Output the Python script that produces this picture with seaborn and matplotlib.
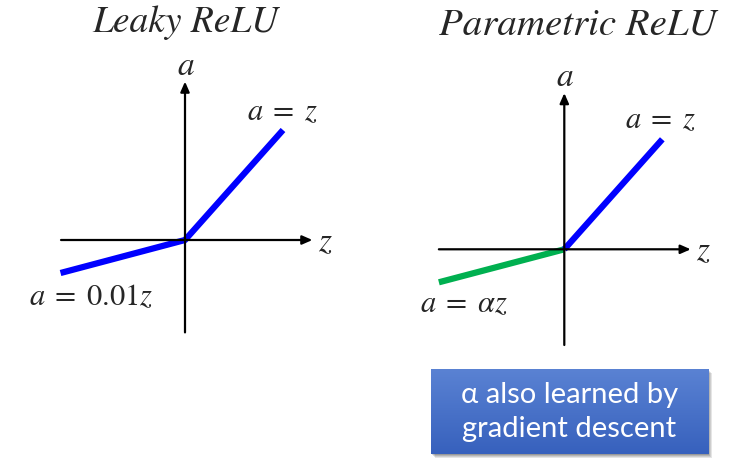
import matplotlib
matplotlib.use("Agg")
import matplotlib.pyplot as plt
import seaborn as sns
import numpy as np
import pandas as pd

# activation curves, in (z, a) units
leaky_z = [-1.27, 0.0, 1.0]
leaky_a = [-0.30, 0.0, 1.0]
prelu_neg_z = [-1.28, 0.0]
prelu_neg_a = [-0.30, 0.0]
prelu_pos_z = [0.0, 1.0]
prelu_pos_a = [0.0, 1.0]

titles = ["Leaky ReLU", "Parametric ReLU"]
pos_labels = ["$a\\;=\\;z$", "$a\\;=\\;z$"]
neg_labels = ["$a\\;=\\;0.01z$", "$a\\;=\\;\\alpha z$"]
note_lines = ["\u03b1 also learned by", "gradient descent"]

BLUE = "#0000ff"
GREEN = "#00b050"

sns.set_theme(style="white")
plt.rcParams["mathtext.fontset"] = "stix"
plt.rcParams["font.family"] = ["STIXGeneral", "DejaVu Sans"]

W, H = 752, 463
fig = plt.figure(figsize=(W / 100, H / 100), dpi=100)
fig.patch.set_facecolor("white")

SX, SY = 98, 110  # px per unit


def panel(ox, oy, xlim=(-1.95, 1.75), ylim=(-1.05, 2.15)):
    left = (ox + xlim[0] * SX) / W
    width = (xlim[1] - xlim[0]) * SX / W
    bottom = (H - (oy - ylim[0] * SY)) / H
    height = (ylim[1] - ylim[0]) * SY / H
    ax = fig.add_axes([left, bottom, width, height])
    ax.set_xlim(*xlim)
    ax.set_ylim(*ylim)
    ax.axis("off")
    return ax


def draw_axes(ax, x0, x1, y0, y1):
    arrow = dict(arrowstyle="-|>,head_length=0.5,head_width=0.22", color="black",
                 lw=1.6, shrinkA=0, shrinkB=0)
    ax.annotate("", xy=(x1, 0), xytext=(x0, 0), arrowprops=arrow)
    ax.annotate("", xy=(0, y1), xytext=(0, y0), arrowprops=arrow)
    ax.text(x1 + 0.13, -0.03, "$z$", fontsize=24, ha="center", va="center")
    ax.text(0.01, y1 + 0.13, "$a$", fontsize=24, ha="center", va="center")


# Leaky ReLU
ax1 = panel(185, 240)
draw_axes(ax1, -1.265, 1.30, -0.84, 1.44)
sns.lineplot(x=leaky_z, y=leaky_a, color=BLUE, lw=4.5, sort=False, ax=ax1,
             solid_capstyle="butt", solid_joinstyle="round")
ax1.text(0.0, 1.98, titles[0], fontsize=27, style="italic", ha="center", va="center")
ax1.text(0.99, 1.15, pos_labels[0], fontsize=22, ha="center", va="center")
ax1.text(-0.96, -0.53, neg_labels[0], fontsize=22, ha="center", va="center")

# Parametric ReLU
ax2 = panel(564.3, 249.3)
draw_axes(ax2, -1.28, 1.29, -0.87, 1.42)
sns.lineplot(x=prelu_neg_z, y=prelu_neg_a, color=GREEN, lw=4.5, ax=ax2,
             solid_capstyle="butt")
sns.lineplot(x=prelu_pos_z, y=prelu_pos_a, color=BLUE, lw=4.5, ax=ax2,
             solid_capstyle="butt")
ax2.text(0.14, 2.04, titles[1], fontsize=28, style="italic", ha="center", va="center")
ax2.text(0.98, 1.16, pos_labels[1], fontsize=22, ha="center", va="center")
ax2.text(-1.03, -0.51, neg_labels[1], fontsize=22, ha="center", va="center")

# note box with vertical gradient and soft shadow
bx0, by0, bx1, by1 = 431, 369, 708, 454
for k, alpha in enumerate([0.10, 0.10, 0.12, 0.15]):
    off = 4 - k
    sh = fig.add_axes([(bx0 + off) / W, (H - by1 - off) / H,
                       (bx1 - bx0) / W, (by1 - by0) / H])
    sh.set_facecolor((0, 0, 0, alpha))
    sh.set_xticks([])
    sh.set_yticks([])
    for s in sh.spines.values():
        s.set_visible(False)
box = fig.add_axes([bx0 / W, (H - by1) / H, (bx1 - bx0) / W, (by1 - by0) / H])
top = np.array([0x5a, 0x82, 0xd3]) / 255
bot = np.array([0x37, 0x61, 0xbd]) / 255
t = np.linspace(0, 1, 100)[:, None, None]
grad = top * (1 - t) + bot * t
grad = np.repeat(grad, 2, axis=1)
box.imshow(grad, aspect="auto", extent=(0, 1, 0, 1))
box.axis("off")
box.text(0.5, 0.70, note_lines[0], color="white", fontsize=21, ha="center", va="center",
         family=["Lato", "DejaVu Sans"])
box.text(0.5, 0.29, note_lines[1], color="white", fontsize=21, ha="center", va="center",
         family=["Lato", "DejaVu Sans"])

fig.savefig("out.png", dpi=100, facecolor="white")
